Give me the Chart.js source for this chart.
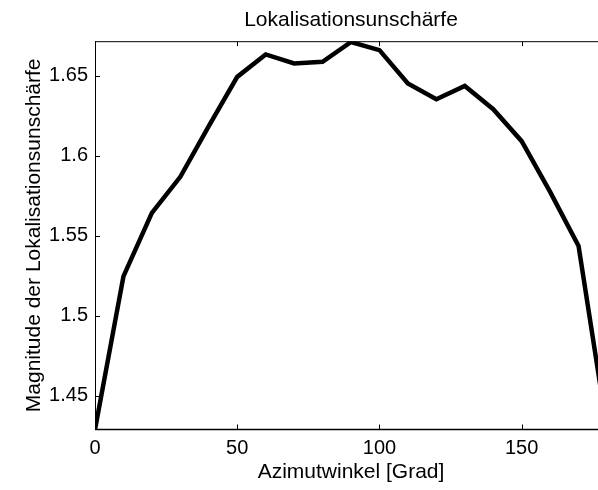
<!DOCTYPE html>
<html>
<head>
<meta charset="utf-8">
<script src="https://cdn.jsdelivr.net/npm/chart.js@4.4.0/dist/chart.umd.min.js"></script>
<style>
  html, body { margin: 0; padding: 0; background: #fff; overflow: hidden; width: 598px; height: 490px; }
  #wrap { position: absolute; left: 0; top: 0; width: 702px; height: 490px; }
</style>
</head>
<body>
<div id="wrap"><canvas id="c" width="702" height="490"></canvas></div>
<script>
const azimuth = [0, 10, 20, 30, 40, 50, 60, 70, 80, 90, 100, 110, 120, 130, 140, 150, 160, 170, 180];
const magnitude = [1.4289, 1.5246, 1.5644, 1.5869, 1.6186, 1.6494, 1.6634, 1.6578, 1.6588, 1.6712,
                   1.6661, 1.6452, 1.6354, 1.6437, 1.6292, 1.6092, 1.5775, 1.5437, 1.4292];
const xTicks = [0, 50, 100, 150];
const yTicks = [1.45, 1.5, 1.55, 1.6, 1.65];
const xRange = [0, 180];
const yRange = [1.4289, 1.6717];

const FONT = "'Liberation Sans', Arial, sans-serif";

const framePlugin = {
  id: 'frame',
  afterDatasetsDraw(chart) {
    const {ctx, chartArea: a, scales} = chart;
    ctx.save();
    ctx.strokeStyle = '#000';
    ctx.lineWidth = 1;
    ctx.beginPath();
    ctx.moveTo(a.left + 0.5, a.top + 0.5);
    ctx.lineTo(a.left + 0.5, a.bottom);
    ctx.moveTo(a.left, a.top + 0.5);
    ctx.lineTo(a.right, a.top + 0.5);
    ctx.moveTo(a.right - 0.5, a.top);
    ctx.lineTo(a.right - 0.5, a.bottom);
    ctx.stroke();
    ctx.lineWidth = 1.5;
    ctx.beginPath();
    ctx.moveTo(a.left, a.bottom);
    ctx.lineTo(a.right, a.bottom);
    ctx.stroke();
    ctx.lineWidth = 1;
    ctx.beginPath();
    const tl = 5;
    xTicks.forEach(v => {
      const x = Math.round(scales.x.getPixelForValue(v)) + 0.5;
      ctx.moveTo(x, a.bottom); ctx.lineTo(x, a.bottom - tl);
      ctx.moveTo(x, a.top); ctx.lineTo(x, a.top + tl);
    });
    yTicks.forEach(v => {
      const y = Math.round(scales.y.getPixelForValue(v)) + 0.5;
      ctx.moveTo(a.left, y); ctx.lineTo(a.left + tl, y);
      ctx.moveTo(a.right, y); ctx.lineTo(a.right - tl, y);
    });
    ctx.stroke();
    ctx.restore();
  }
};

new Chart(document.getElementById('c'), {
  type: 'line',
  data: {
    datasets: [{
      data: azimuth.map((x, i) => ({x: x, y: magnitude[i]})),
      borderColor: '#000',
      borderWidth: 4.5,
      pointRadius: 0,
      tension: 0,
      fill: false
    }]
  },
  options: {
    responsive: false,
    animation: false,
    devicePixelRatio: 1,
    layout: { padding: 0 },
    plugins: {
      legend: { display: false },
      tooltip: { enabled: false },
      title: {
        display: true,
        text: 'Lokalisationsunschärfe',
        color: '#000',
        font: { family: FONT, size: 21, weight: 'normal', lineHeight: 1.2 },
        padding: { top: 8, bottom: 8 }
      }
    },
    scales: {
      x: {
        type: 'linear',
        min: xRange[0], max: xRange[1],
        afterBuildTicks: s => { s.ticks = xTicks.map(v => ({value: v})); },
        afterFit: s => { s.height = 60.5; },
        grid: { display: false, drawTicks: false, tickLength: 0 },
        border: { display: false },
        ticks: { color: '#000', font: { family: FONT, size: 20 }, padding: 7, maxRotation: 0, autoSkip: false },
        title: {
          display: true, text: 'Azimutwinkel [Grad]', color: '#000',
          font: { family: FONT, size: 21, lineHeight: 1.2 },
          padding: { top: 0, bottom: 5 }
        }
      },
      y: {
        type: 'linear',
        min: yRange[0], max: yRange[1],
        afterBuildTicks: s => { s.ticks = yTicks.map(v => ({value: v})); },
        afterFit: s => { s.width = 95; },
        grid: { display: false, drawTicks: false, tickLength: 0 },
        border: { display: false },
        ticks: { color: '#000', font: { family: FONT, size: 20 }, padding: 7,
                 callback: v => String(v) },
        title: {
          display: true, text: 'Magnitude der Lokalisationsunschärfe', color: '#000',
          font: { family: FONT, size: 21, lineHeight: 1.2 },
          padding: { top: 22, bottom: 0 }
        }
      },
      yR: {
        type: 'linear', position: 'right', display: true,
        min: 0, max: 1,
        afterFit: s => { s.width = 95; },
        grid: { display: false, drawTicks: false },
        border: { display: false },
        ticks: { display: false }
      }
    }
  },
  plugins: [framePlugin]
});
</script>
</body>
</html>
